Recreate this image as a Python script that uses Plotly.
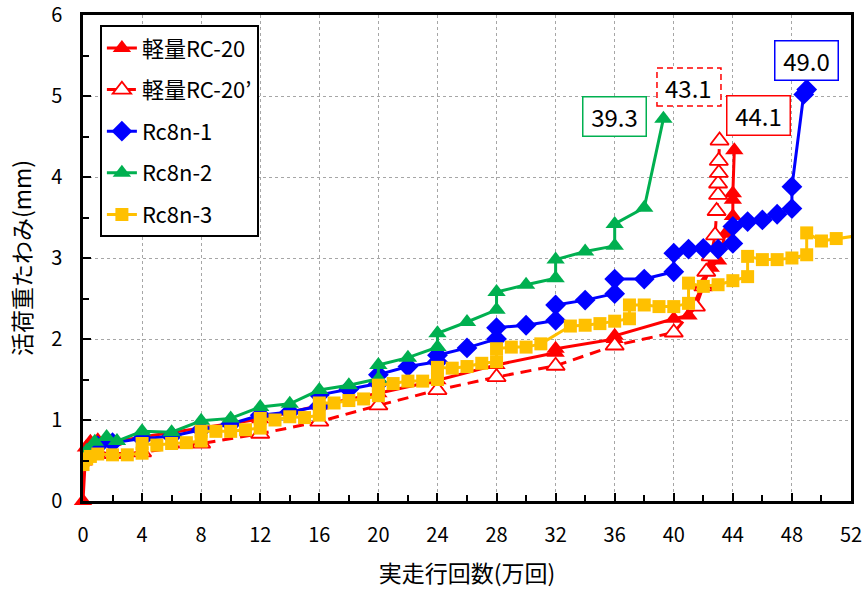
import plotly.graph_objects as go

# 実走行回数 (万回) と 活荷重たわみ (mm)
rc20_x = [0, 0.2, 0.5, 1, 2, 4, 8, 12, 16, 20, 24, 28, 32, 32, 36, 36, 40, 41, 42, 42.5, 43, 43.5, 44, 44, 44, 44.1]
rc20_y = [0, 0.66, 0.73, 0.75, 0.73, 0.79, 0.9, 1.01, 1.18, 1.33, 1.49, 1.68, 1.83, 1.88, 2.0, 2.04, 2.25, 2.29,
          2.68, 2.88, 2.97, 3.3, 3.52, 3.72, 3.8, 4.33]

rc20d_x = [0, 0.2, 0.5, 1, 2, 4, 8, 12, 16, 20, 24, 28, 32, 36, 40, 41.5, 42, 42.2, 42.5, 42.8, 42.9, 43.0, 43.0,
           43.05, 43.05, 43.1]
rc20d_y = [0.5, 0.55, 0.6, 0.6, 0.58, 0.6, 0.71, 0.83, 0.98, 1.18, 1.37, 1.53, 1.67, 1.92, 2.08, 2.4, 2.65, 2.83,
           3.02, 3.28, 3.58, 3.78, 3.92, 4.05, 4.2, 4.45]

rc8n1_x = [0, 0.5, 1, 2, 4, 6, 8, 10, 12, 14, 16, 16, 18, 20, 20, 22, 24, 24, 26, 28, 28, 30, 32, 32, 34, 36, 36,
           38, 40, 40, 41, 42, 43, 44, 44, 45, 46, 47, 48, 48, 48.8, 49.0]
rc8n1_y = [0.5, 0.62, 0.68, 0.72, 0.77, 0.8, 0.88, 0.95, 1.06, 1.1, 1.17, 1.31, 1.38, 1.45, 1.56, 1.66, 1.72, 1.8,
           1.89, 2.0, 2.14, 2.17, 2.23, 2.42, 2.48, 2.56, 2.74, 2.74, 2.83, 3.06, 3.11, 3.12, 3.11, 3.18, 3.39, 3.45,
           3.47, 3.54, 3.61, 3.88, 5.02, 5.08]

rc8n2_x = [0, 0.25, 0.8, 1.6, 2.3, 4, 6, 8, 10, 12, 14, 16, 18, 20, 20, 22, 24, 24, 26, 28, 28, 30, 32, 32, 34,
           36, 36, 38, 39.3]
rc8n2_y = [0.5, 0.62, 0.73, 0.79, 0.74, 0.86, 0.85, 0.99, 1.02, 1.16, 1.2, 1.37, 1.43, 1.51, 1.68, 1.77, 1.90,
           2.07, 2.21, 2.36, 2.58, 2.67, 2.75, 2.98, 3.08, 3.15, 3.42, 3.62, 4.72]

rc8n3_x = [0, 0, 0.25, 0.5, 1, 2, 3, 4, 4, 5, 6, 7, 8, 8, 9, 10, 11, 12, 12, 13, 14, 15, 16, 16, 17, 18, 19, 20,
           20, 21, 22, 23, 24, 24, 25, 26, 27, 28, 28, 29, 30, 31, 33, 34, 35, 36, 37, 37, 38, 39, 40, 41, 41, 42,
           43, 44, 45, 45, 46, 47, 48, 49, 49, 50, 51, 52.6]
rc8n3_y = [0.45, 0.5, 0.52, 0.55, 0.58, 0.57, 0.57, 0.59, 0.71, 0.69, 0.71, 0.72, 0.74, 0.86, 0.86, 0.86, 0.88,
           0.9, 1.02, 1.0, 1.04, 1.03, 1.06, 1.21, 1.21, 1.24, 1.26, 1.3, 1.43, 1.45, 1.48, 1.48, 1.5, 1.65, 1.64,
           1.66, 1.7, 1.72, 1.88, 1.9, 1.9, 1.94, 2.16, 2.17, 2.19, 2.22, 2.25, 2.42, 2.42, 2.4, 2.4, 2.44, 2.69,
           2.65, 2.67, 2.72, 2.77, 3.02, 2.98, 2.98, 3.0, 3.04, 3.31, 3.21, 3.24, 3.28]

x_ticks = [0, 4, 8, 12, 16, 20, 24, 28, 32, 36, 40, 44, 48, 52]
y_ticks = [0, 1, 2, 3, 4, 5, 6]

names = ["軽量RC-20", "軽量RC-20’", "Rc8n-1", "Rc8n-2", "Rc8n-3"]

RED = "#FF0000"
BLUE = "#0000FF"
GREEN = "#00B050"
YELLOW = "#FFC000"
FONT = "Noto Sans CJK JP"
LW = 3

fig = go.Figure()

fig.add_trace(go.Scatter(
    x=rc20_x, y=rc20_y, name=names[0], mode="lines+markers", legendgroup="a",
    line=dict(color=RED, width=LW),
    marker=dict(symbol="triangle-up", size=16, color=RED),
    cliponaxis=False))
fig.add_trace(go.Scatter(
    x=rc20d_x, y=rc20d_y, name=names[1], mode="lines+markers", legendgroup="b",
    line=dict(color=RED, width=LW, dash="11px,7px"),
    marker=dict(symbol="triangle-up", size=16, color="white", line=dict(color=RED, width=1.8))))
fig.add_trace(go.Scatter(
    x=rc8n1_x, y=rc8n1_y, name=names[2], mode="lines+markers", legendgroup="c",
    line=dict(color=BLUE, width=LW),
    marker=dict(symbol="diamond", size=16, color=BLUE)))
fig.add_trace(go.Scatter(
    x=rc8n2_x, y=rc8n2_y, name=names[3], mode="lines+markers", legendgroup="d",
    line=dict(color=GREEN, width=LW),
    marker=dict(symbol="triangle-up", size=16, color=GREEN)))
fig.add_trace(go.Scatter(
    x=rc8n3_x, y=rc8n3_y, name=names[4], mode="lines+markers", legendgroup="e",
    line=dict(color=YELLOW, width=LW),
    marker=dict(symbol="square", size=13, color=YELLOW)))

# 最終回数のラベル
labels = [
    (f"{rc8n2_x[-1]:.1f}", 36.02, 4.75, GREEN),
    (f"{rc20_x[-1]:.1f}", 45.77, 4.76, RED),
    (f"{rc8n1_x[-1]:.1f}", 49.02, 5.44, BLUE),
]
for text, ax, ay, col in labels:
    fig.add_annotation(x=ax, y=ay, text=text, showarrow=False,
                       font=dict(size=24, color="black", family=FONT),
                       bgcolor="white", bordercolor=col, borderwidth=1.5,
                       borderpad=4, width=54, height=30)

# 軽量RC-20’ のラベル (破線枠)
dash_cx, dash_cy = 41.03, 5.11
fig.add_shape(type="rect", xref="x", yref="y", xsizemode="pixel", ysizemode="pixel",
              xanchor=dash_cx, yanchor=dash_cy, x0=-32, x1=32, y0=-19, y1=19,
              line=dict(color=RED, width=1.5, dash="6px,4px"), fillcolor="white", layer="above")
fig.add_annotation(x=dash_cx, y=dash_cy, text=f"{rc20d_x[-1]:.1f}", showarrow=False,
                   font=dict(size=24, color="black", family=FONT))

axis_common = dict(
    showline=True, linecolor="black", linewidth=2.5, mirror=True,
    showgrid=True, gridcolor="#A6A6A6", griddash="dot", gridwidth=1,
    ticks="inside", ticklen=8, tickwidth=1.5, tickcolor="black",
    zeroline=False, tickfont=dict(size=20, color="black", family=FONT),
    ticklabeloverflow="allow", automargin=False,
)

fig.update_xaxes(range=[0, 52], tickmode="array", tickvals=x_ticks, ticktext=[str(v) for v in x_ticks],
                 minor=dict(dtick=2, tick0=0, ticks="inside", ticklen=6, tickcolor="black", tickwidth=1.5,
                            showgrid=False),
                 title=dict(text="実走行回数(万回)", font=dict(size=23, color="black", family=FONT), standoff=20),
                 ticklabelstandoff=14,
                 **axis_common)
fig.update_yaxes(range=[0, 6], tickmode="array", tickvals=y_ticks, ticktext=[str(v) for v in y_ticks],
                 minor=dict(dtick=0.5, tick0=0, ticks="inside", ticklen=6, tickcolor="black", tickwidth=1.5,
                            showgrid=False),
                 title=dict(text="活荷重たわみ(mm)", font=dict(size=23, color="black", family=FONT), standoff=14),
                 ticklabelstandoff=14,
                 **axis_common)

fig.update_layout(
    width=864, height=594,
    margin=dict(l=83, r=13, t=15, b=93),
    paper_bgcolor="white", plot_bgcolor="white",
    font=dict(family=FONT, color="black"),
    legend=dict(x=0.022, y=0.979, xanchor="left", yanchor="top",
                bgcolor="white", bordercolor="black", borderwidth=2,
                font=dict(size=22, color="black", family=FONT),
                traceorder="grouped", tracegroupgap=10),
    showlegend=True,
)

fig.write_html("out.html")
